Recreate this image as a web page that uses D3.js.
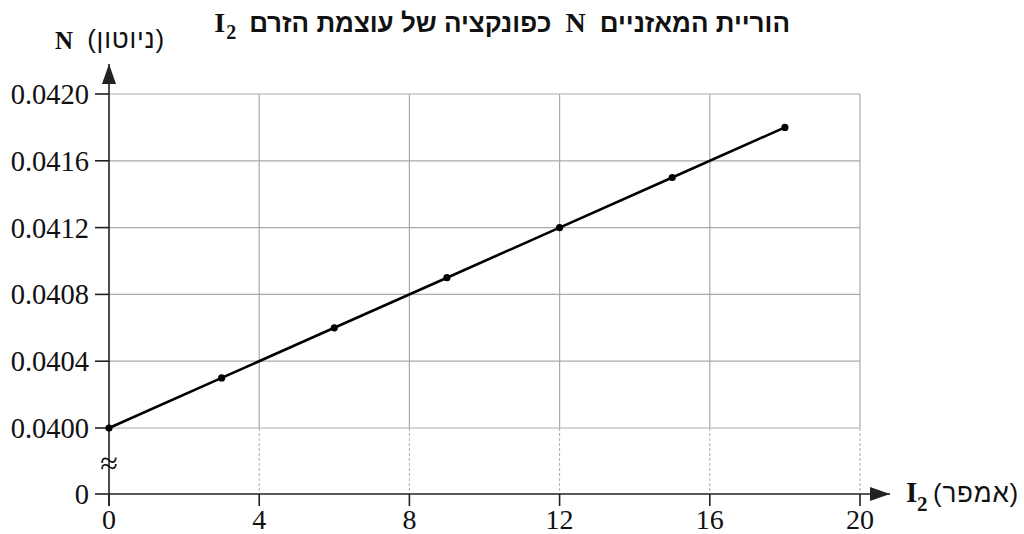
<!DOCTYPE html>
<html><head><meta charset="utf-8">
<script src="https://cdn.jsdelivr.net/npm/d3@7"></script>
<style>body{margin:0;background:#fff}svg{display:block}</style>
</head><body>
<svg id="c" width="1024" height="534"></svg>
<script>
const currents = [0, 3, 6, 9, 12, 15, 18];
const forces = [0.0400, 0.0403, 0.0406, 0.0409, 0.0412, 0.0415, 0.0418];
const xTicks = [0, 4, 8, 12, 16, 20];
const yTicks = [0, 0.0400, 0.0404, 0.0408, 0.0412, 0.0416, 0.0420];
const yTickLabels = ["0", "0.0400", "0.0404", "0.0408", "0.0412", "0.0416", "0.0420"];
const titleParts = [
  {t: "הוריית המאזניים", f: "hb"},
  {t: "N", f: "lat"},
  {t: "כפונקציה של עוצמת הזרם", f: "hb"},
  {t: "I", f: "lat", sub: "2"}
];

const svg = d3.select("#c");
const x = d3.scaleLinear().domain([0, 20]).range([109, 860]);
const y = d3.scaleLinear().domain([0, 0.0400, 0.0420]).range([494, 428, 94]);
const serif = "Liberation Serif, DejaVu Serif, Times New Roman, serif";
const hebSans = "Liberation Sans, DejaVu Sans, sans-serif";
const grid = "#aaaaaa";

svg.append("g").selectAll("line").data(xTicks.slice(1)).join("line")
  .attr("x1", d => x(d)).attr("x2", d => x(d))
  .attr("y1", y(0.0420)).attr("y2", y(0.0400))
  .attr("stroke", grid).attr("stroke-width", 1.2);
svg.append("g").selectAll("line").data(yTicks.slice(1)).join("line")
  .attr("x1", x(0)).attr("x2", x(20))
  .attr("y1", d => y(d)).attr("y2", d => y(d))
  .attr("stroke", grid).attr("stroke-width", 1.2);
svg.append("g").selectAll("line").data(xTicks.slice(1)).join("line")
  .attr("x1", d => x(d)).attr("x2", d => x(d))
  .attr("y1", y(0.0400)).attr("y2", y(0))
  .attr("stroke", "#aaa").attr("stroke-width", 1).attr("stroke-dasharray", "3,2");

const axCol = "#222";
svg.append("defs").append("marker").attr("id", "ar")
  .attr("viewBox", "0 0 10 10").attr("refX", 10).attr("refY", 5)
  .attr("markerWidth", 20).attr("markerHeight", 20).attr("markerUnits", "userSpaceOnUse")
  .attr("orient", "auto")
  .append("path").attr("d", "M0,1.5 L10,5 L0,8.5 Z").attr("fill", axCol);

svg.append("line").attr("x1", x(0)).attr("x2", 890).attr("y1", y(0)).attr("y2", y(0))
  .attr("stroke", axCol).attr("stroke-width", 1.6).attr("marker-end", "url(#ar)");
svg.append("line").attr("x1", x(0)).attr("x2", x(0)).attr("y1", y(0) + 12).attr("y2", 64)
  .attr("stroke", axCol).attr("stroke-width", 1.6).attr("marker-end", "url(#ar)");

svg.append("g").selectAll("line").data(xTicks).join("line")
  .attr("x1", d => x(d)).attr("x2", d => x(d))
  .attr("y1", y(0)).attr("y2", y(0) + 12)
  .attr("stroke", axCol).attr("stroke-width", 1.6);
svg.append("g").selectAll("line").data(yTicks).join("line")
  .attr("x1", x(0) - 14).attr("x2", x(0))
  .attr("y1", d => y(d)).attr("y2", d => y(d))
  .attr("stroke", axCol).attr("stroke-width", 1.6);

svg.append("g").selectAll("text").data(xTicks).join("text")
  .attr("x", d => x(d)).attr("y", 529)
  .attr("text-anchor", "middle").attr("font-family", serif).attr("font-size", 28)
  .attr("fill", "#111").text(d => d);
svg.append("g").selectAll("text").data(yTicks).join("text")
  .attr("x", 89).attr("y", d => y(d) + 10)
  .attr("text-anchor", "end").attr("font-family", serif).attr("font-size", 28.5)
  .attr("fill", "#111").text((d, i) => yTickLabels[i]);

svg.append("text").attr("x", x(0)).attr("y", 474).attr("text-anchor", "middle")
  .attr("font-family", serif).attr("font-size", 32).attr("fill", "#111").text("≈");

svg.append("path").datum(currents.map((c, i) => [c, forces[i]]))
  .attr("d", d3.line().x(d => x(d[0])).y(d => y(d[1])))
  .attr("fill", "none").attr("stroke", "#000").attr("stroke-width", 2.6);
svg.append("g").selectAll("circle").data(currents).join("circle")
  .attr("cx", d => x(d)).attr("cy", (d, i) => y(forces[i])).attr("r", 3.6).attr("fill", "#000");

svg.append("text").attr("x", 55).attr("y", 49).attr("font-family", serif).attr("font-weight", "bold")
  .attr("font-size", 25).attr("fill", "#111").text("N");
svg.append("text").attr("x", 165).attr("y", 48).attr("text-anchor", "end")
  .attr("font-family", hebSans).attr("font-size", 26).attr("letter-spacing", 0.8).attr("fill", "#111").text("(ניוטון)");

svg.append("text").attr("x", 906).attr("y", 502).attr("font-family", serif).attr("font-weight", "bold")
  .attr("font-size", 29).attr("fill", "#111").text("I");
svg.append("text").attr("x", 917).attr("y", 511).attr("font-family", serif).attr("font-weight", "bold")
  .attr("font-size", 21).attr("fill", "#111").text("2");
svg.append("text").attr("x", 1019).attr("y", 502).attr("text-anchor", "end")
  .attr("font-family", hebSans).attr("font-size", 26).attr("letter-spacing", 0.8).attr("fill", "#111").text("(אמפר)");

let cursor = 790;
const gap = 14;
titleParts.forEach(p => {
  const t = svg.append("text").attr("y", 32).attr("fill", "#111");
  if (p.f === "hb") {
    t.attr("font-family", hebSans).attr("font-weight", "bold").attr("font-size", 26).text(p.t);
  } else {
    t.attr("font-family", serif).attr("font-weight", "bold").attr("font-size", 28).text(p.t);
  }
  const w = t.node().getComputedTextLength();
  let s = null, sw = 0;
  if (p.sub) {
    s = svg.append("text").attr("y", 39).attr("font-family", serif).attr("font-weight", "bold")
      .attr("font-size", 20).attr("fill", "#111").text(p.sub);
    sw = s.node().getComputedTextLength();
  }
  const left = cursor - w - sw;
  if (p.f === "hb") t.attr("x", cursor).attr("text-anchor", "end");
  else t.attr("x", left);
  if (s) s.attr("x", left + w + 1);
  cursor = left - gap;
});
</script>
</body></html>
